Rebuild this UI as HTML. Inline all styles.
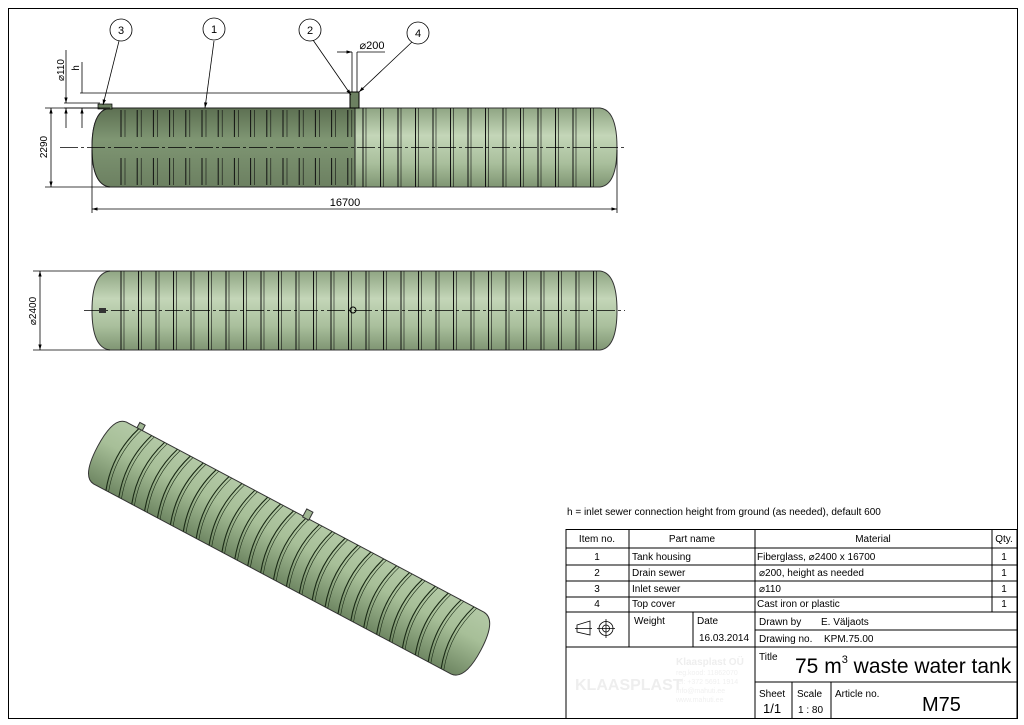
<!DOCTYPE html>
<html><head><meta charset="utf-8"><style>
html,body{margin:0;padding:0;background:#fff;}
svg{display:block;font-family:"Liberation Sans",sans-serif;}
</style></head><body>
<svg id="s" width="1024" height="725" viewBox="0 0 1024 725" xmlns="http://www.w3.org/2000/svg">
<defs>
<linearGradient id="gv" x1="0" y1="0" x2="0" y2="1">
<stop offset="0" stop-color="#8fa583"/><stop offset="0.35" stop-color="#c4d6b8"/><stop offset="0.7" stop-color="#a9bf9c"/><stop offset="1" stop-color="#7f9573"/></linearGradient>
<linearGradient id="gd" x1="0" y1="0" x2="0" y2="1">
<stop offset="0" stop-color="#5d7052"/><stop offset="0.4" stop-color="#7f9673"/><stop offset="1" stop-color="#6c8061"/></linearGradient>
<linearGradient id="gi" x1="0" y1="0" x2="0" y2="1">
<stop offset="0" stop-color="#b3c9a6"/><stop offset="0.4" stop-color="#a7bf98"/><stop offset="1" stop-color="#6f8763"/></linearGradient>
<marker id="ar" viewBox="0 0 10 10" refX="10" refY="5" markerWidth="7" markerHeight="7" orient="auto-start-reverse"><path d="M0,2 L10,5 L0,8z" fill="#000"/></marker>
</defs>
<rect x="8.5" y="8.5" width="1009" height="710" fill="none" stroke="#000" stroke-width="1"/>

<path d="M110,108 H600 Q617,110 617,147.5 Q617,185 600,187 H110 Q92,185 92,147.5 Q92,110 110,108Z" fill="url(#gv)" stroke="#333" stroke-width="1"/>
<path d="M110,108 H355 V187 H110 Q92,185 92,147.5 Q92,110 110,108Z" fill="url(#gd)" stroke="#222" stroke-width="1"/>
<g id="r1" stroke="#111" stroke-width="1"></g>
<line x1="60" y1="147.5" x2="625" y2="147.5" stroke="#000" stroke-width="0.8" stroke-dasharray="18,3,3,3"/>
<rect x="350" y="92" width="9" height="16" fill="#6c8061" stroke="#000"/>
<rect x="98" y="104" width="14" height="5" fill="#6c8061" stroke="#000" stroke-width="0.7"/>
<g stroke="#000" stroke-width="0.8" fill="none">
<line x1="45" y1="108" x2="110" y2="108"/><line x1="45" y1="187" x2="110" y2="187"/>
<line x1="51" y1="108" x2="51" y2="187" marker-start="url(#ar)" marker-end="url(#ar)"/>
<line x1="92" y1="150" x2="92" y2="213"/><line x1="617" y1="150" x2="617" y2="213"/>
<line x1="92" y1="209" x2="617" y2="209" marker-start="url(#ar)" marker-end="url(#ar)"/>
<line x1="80" y1="93" x2="350" y2="93"/><line x1="64" y1="103" x2="100" y2="103"/><line x1="64" y1="108" x2="100" y2="108"/>
<line x1="82" y1="62" x2="82" y2="93" /><line x1="82" y1="108" x2="82" y2="128" marker-start="url(#ar)"/>
<line x1="66" y1="50" x2="66" y2="103" marker-end="url(#ar)"/><line x1="66" y1="108" x2="66" y2="128" marker-start="url(#ar)"/>
<line x1="352" y1="52" x2="352" y2="92"/><line x1="357" y1="52" x2="357" y2="92"/>
<line x1="337" y1="52" x2="352" y2="52" marker-end="url(#ar)"/><line x1="357" y1="52" x2="385" y2="52"/>
<line x1="119" y1="41" x2="103" y2="105" marker-end="url(#ar)"/>
<line x1="214" y1="41" x2="205" y2="108" marker-end="url(#ar)"/>
<line x1="313" y1="40" x2="351" y2="95" marker-end="url(#ar)"/>
<line x1="412" y1="42" x2="359" y2="92" marker-end="url(#ar)"/>
</g>
<g fill="#fff" stroke="#000" stroke-width="0.8"><circle cx="121" cy="30" r="11"/><circle cx="214" cy="29" r="11"/><circle cx="310" cy="30" r="11"/><circle cx="418" cy="33" r="11"/></g>
<g font-size="11" text-anchor="middle"><text x="121" y="34">3</text><text x="214" y="33">1</text><text x="310" y="34">2</text><text x="418" y="37">4</text>
<text x="345" y="206">16700</text><text x="372" y="49">⌀200</text></g>
<text transform="translate(47,147) rotate(-90)" font-size="10" text-anchor="middle">2290</text>
<text transform="translate(64,70) rotate(-90)" font-size="10" text-anchor="middle">⌀110</text>
<text transform="translate(79,68) rotate(-90)" font-size="10" text-anchor="middle">h</text>

<path d="M110,271 H600 Q617,273 617,310.5 Q617,348 600,350 H110 Q92,348 92,310.5 Q92,273 110,271Z" fill="url(#gv)" stroke="#333"/>
<g id="r2" stroke="#111" stroke-width="1"></g>
<line x1="84" y1="310.5" x2="625" y2="310.5" stroke="#000" stroke-width="0.8" stroke-dasharray="18,3,3,3"/>
<circle cx="353" cy="310" r="3" fill="none" stroke="#000"/>
<rect x="99" y="308" width="7" height="5" fill="#333"/>
<g stroke="#000" stroke-width="0.8"><line x1="33" y1="271" x2="110" y2="271"/><line x1="33" y1="350" x2="110" y2="350"/>
<line x1="40" y1="271" x2="40" y2="350" marker-start="url(#ar)" marker-end="url(#ar)"/></g>
<text transform="translate(36,311) rotate(-90)" font-size="10" text-anchor="middle">⌀2400</text>

<g transform="translate(110,453) rotate(28)">
<path d="M0,-35 H405 Q420,-34 420,0 Q420,34 405,35 H0 Q-14,34 -14,0 Q-14,-34 0,-35Z" fill="url(#gi)" stroke="#333"/>
<g id="r3" fill="none" stroke="#1a2a15" stroke-width="1.1"></g>
<rect x="200" y="-43" width="7" height="9" fill="#9fb592" stroke="#333"/>
<rect x="12" y="-41" width="6" height="6" fill="#9fb592" stroke="#333"/>
</g>

<text x="567" y="515" font-size="10">h = inlet sewer connection height from ground (as needed), default 600</text>
<g stroke="#000" stroke-width="1" fill="none">
<rect x="566" y="529.5" width="451" height="189"/>
<line x1="566" y1="548" x2="1017" y2="548"/><line x1="566" y1="565" x2="1017" y2="565"/>
<line x1="566" y1="581" x2="1017" y2="581"/><line x1="566" y1="597" x2="1017" y2="597"/>
<line x1="566" y1="612" x2="1017" y2="612"/><line x1="755" y1="630" x2="1017" y2="630"/>
<line x1="566" y1="647" x2="1017" y2="647"/><line x1="755" y1="682" x2="1017" y2="682"/>
<line x1="629" y1="529" x2="629" y2="647"/><line x1="755" y1="529" x2="755" y2="718"/>
<line x1="992" y1="529" x2="992" y2="612"/><line x1="693" y1="612" x2="693" y2="647"/>
<line x1="792" y1="682" x2="792" y2="718"/><line x1="831" y1="682" x2="831" y2="718"/>
<path d="M577,625 L590,621 V635 L577,632Z M575,628.5 H592" stroke-width="0.8"/>
<circle cx="606" cy="628.5" r="7" stroke-width="0.8"/><circle cx="606" cy="628.5" r="3.5" stroke-width="0.8"/>
<line x1="597" y1="628.5" x2="615" y2="628.5" stroke-width="0.8"/><line x1="606" y1="619" x2="606" y2="638" stroke-width="0.8"/>
</g>
<g font-size="10">
<text x="597" y="542" text-anchor="middle">Item no.</text><text x="692" y="542" text-anchor="middle">Part name</text>
<text x="873" y="542" text-anchor="middle">Material</text><text x="1004" y="542" text-anchor="middle">Qty.</text>
<text x="597" y="560" text-anchor="middle">1</text><text x="597" y="576" text-anchor="middle">2</text><text x="597" y="592" text-anchor="middle">3</text><text x="597" y="607" text-anchor="middle">4</text>
<text x="632" y="560">Tank housing</text><text x="632" y="576">Drain sewer</text><text x="632" y="592">Inlet sewer</text><text x="632" y="607">Top cover</text>
<text x="757" y="560">Fiberglass,  ⌀2400 x 16700</text><text x="759" y="576">⌀200, height as needed</text><text x="759" y="592">⌀110</text><text x="757" y="607">Cast iron or plastic</text>
<text x="1004" y="560" text-anchor="middle">1</text><text x="1004" y="576" text-anchor="middle">1</text><text x="1004" y="592" text-anchor="middle">1</text><text x="1004" y="607" text-anchor="middle">1</text>
<text x="634" y="624">Weight</text><text x="697" y="624">Date</text><text x="699" y="641">16.03.2014</text>
<text x="759" y="625">Drawn by</text><text x="821" y="625">E. Väljaots</text>
<text x="759" y="642">Drawing no.</text><text x="824" y="642">KPM.75.00</text>
<text x="759" y="660">Title</text><text x="759" y="697">Sheet</text><text x="797" y="697">Scale</text><text x="835" y="697">Article no.</text>
<text x="763" y="713" font-size="13">1/1</text><text x="798" y="713">1 : 80</text>
</g>
<text x="795" y="673" font-size="21">75 m<tspan font-size="11" dy="-10">3</tspan><tspan dy="10"> waste water tank</tspan></text>
<text x="922" y="711" font-size="20">M75</text>
<g fill="#eee" font-weight="bold"><text x="575" y="690" font-size="16">KLAASPLAST</text><text x="676" y="665" font-size="10">Klaasplast OÜ</text></g>
<g fill="#f0f0f0" font-size="7"><text x="676" y="675">reg.kood: 11862070</text><text x="676" y="684">tel: +372 5691 1914</text><text x="676" y="693">info@mahuti.ee</text><text x="676" y="702">www.mahuti.ee</text></g>
</svg>
<script>
var NS="http://www.w3.org/2000/svg";
function L(g,x1,y1,x2,y2,w){var l=document.createElementNS(NS,"line");l.setAttribute("x1",x1);l.setAttribute("y1",y1);l.setAttribute("x2",x2);l.setAttribute("y2",y2);if(w)l.setAttribute("stroke-width",w);g.appendChild(l);}
var r1=document.getElementById("r1");
for(var x=121;x<350;x+=16.2){L(r1,x,110,x,137);L(r1,x,158,x,185);L(r1,x+4,110,x+4,137,0.6);L(r1,x+4,158,x+4,185,0.6);}
for(var x=363;x<605;x+=17.5){L(r1,x,108,x,187);L(r1,x+3,108,x+3,187,0.6);}
var r2=document.getElementById("r2");
for(var x=121;x<605;x+=17.5){L(r2,x,271,x,350);L(r2,x+3,271,x+3,350,0.6);}
var r3=document.getElementById("r3");
for(var x=14;x<395;x+=14.6){var e=document.createElementNS(NS,"path");e.setAttribute("d","M"+x+",-35 Q"+(x-12)+",0 "+x+",35");r3.appendChild(e);var f=document.createElementNS(NS,"path");f.setAttribute("d","M"+(x+3)+",-35 Q"+(x-9)+",0 "+(x+3)+",35");f.setAttribute("stroke-width","0.6");r3.appendChild(f);}
</script>
</body></html>
